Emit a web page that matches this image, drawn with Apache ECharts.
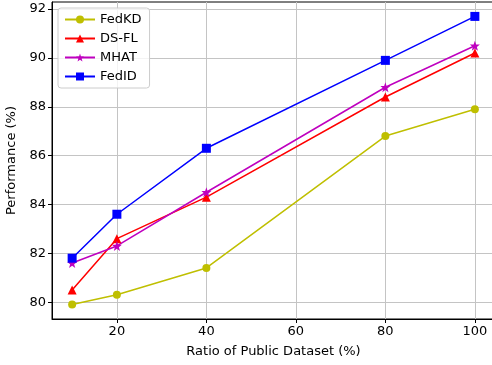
<!DOCTYPE html>
<html>
<head>
<meta charset="utf-8">
<script src="https://cdn.jsdelivr.net/npm/echarts@6/dist/echarts.min.js"></script>
<style>
  html, body { margin: 0; padding: 0; background: #fff; }
  #chart { width: 492px; height: 365px; }
</style>
</head>
<body>
<div id="chart"></div>
<script>
const ratios = [10, 20, 40, 80, 100]
const fedKD = [79.9, 80.3, 81.4, 86.8, 87.9]
const dsFL = [80.5, 82.6, 84.3, 88.4, 90.2]
const mhat = [81.6, 82.3, 84.5, 88.8, 90.5]
const fedID = [81.8, 83.6, 86.3, 89.9, 91.7]
const xTicks = [20, 40, 60, 80, 100]
const yTicks = [80, 82, 84, 86, 88, 90, 92]

// five point star like matplotlib '*'
function starPath() {
  let pts = []
  for (let i = 0; i < 10; i++) {
    const r = i % 2 === 0 ? 10 : 4
    const a = -Math.PI / 2 + i * Math.PI / 5
    pts.push((10 + r * Math.cos(a)).toFixed(2) + ' ' + (10 + r * Math.sin(a)).toFixed(2))
  }
  return 'path://M' + pts.join(' L') + ' Z'
}

const font = 'DejaVu Sans'
const pairs = vals => ratios.map((x, i) => [x, vals[i]])

function series(name, vals, color, symbol, size) {
  return {
    name, type: 'line', data: pairs(vals),
    symbol, symbolSize: size, showSymbol: true,
    lineStyle: { color, width: 1.5 },
    itemStyle: { color },
    animation: false
  }
}

const chart = echarts.init(document.getElementById('chart'))
chart.setOption({
  animation: false,
  grid: {
    left: 52, right: -3, top: 2, bottom: 46,
    containLabel: false, outerBoundsMode: 'none',
    show: true, borderColor: '#000', borderWidth: 1
  },
  legend: {
    orient: 'vertical', left: 58, top: 8,
    padding: [5, 8, 5, 6], itemGap: 6,
    itemWidth: 30, itemHeight: 10,
    borderColor: '#cccccc', borderWidth: 1, borderRadius: 3,
    backgroundColor: 'rgba(255,255,255,0.8)',
    textStyle: { fontFamily: font, fontSize: 13, color: '#000' },
    data: ['FedKD', 'DS-FL', 'MHAT', 'FedID']
  },
  xAxis: {
    type: 'value', min: 5.5, max: 104.5,
    name: 'Ratio of Public Dataset (%)', nameLocation: 'middle', nameGap: 26,
    nameTextStyle: { fontFamily: font, fontSize: 13, color: '#000' },
    axisLine: { show: true, onZero: false, lineStyle: { color: '#000', width: 1 } },
    axisTick: { show: true, length: 4, customValues: xTicks, lineStyle: { color: '#000' } },
    axisLabel: { customValues: xTicks, fontFamily: font, fontSize: 13, color: '#000', margin: 6 },
    splitLine: { show: true, lineStyle: { color: '#c4c4c4', width: 1 } }
  },
  yAxis: {
    type: 'value', min: 79.31, max: 92.29,
    name: 'Performance (%)', nameLocation: 'middle', nameGap: 33,
    nameTextStyle: { fontFamily: font, fontSize: 13, color: '#000' },
    axisLine: { show: true, onZero: false, lineStyle: { color: '#000', width: 1 } },
    axisTick: { show: true, length: 4, customValues: yTicks, lineStyle: { color: '#000' } },
    axisLabel: { customValues: yTicks, fontFamily: font, fontSize: 13, color: '#000', margin: 6 },
    splitLine: { show: true, lineStyle: { color: '#c4c4c4', width: 1 } }
  },
  series: [
    series('FedKD', fedKD, '#bfbf00', 'circle', 8),
    series('DS-FL', dsFL, '#ff0000', 'triangle', 9),
    series('MHAT', mhat, '#bf00bf', starPath(), 10),
    series('FedID', fedID, '#0000ff', 'rect', 9)
  ]
})
</script>
</body>
</html>
